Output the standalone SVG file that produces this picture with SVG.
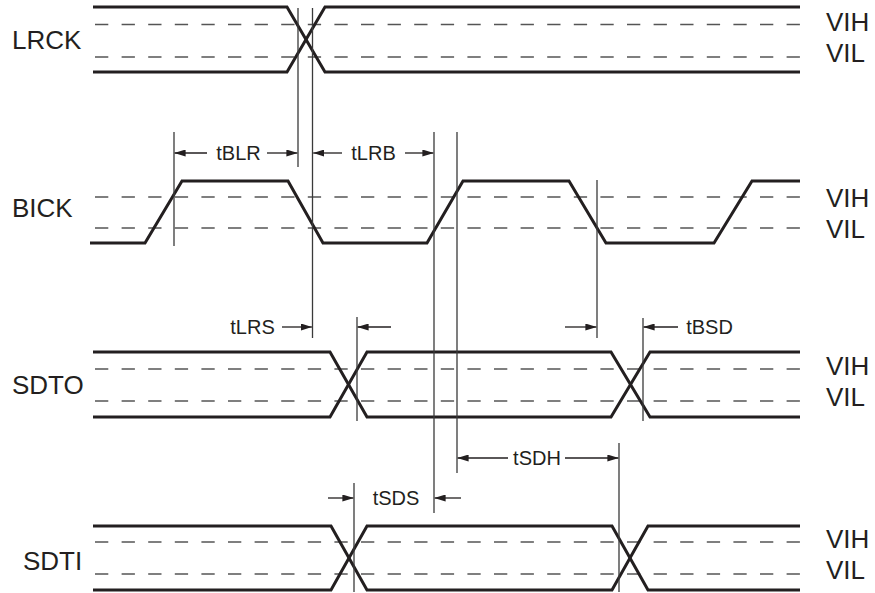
<svg xmlns="http://www.w3.org/2000/svg" width="875" height="593" viewBox="0 0 875 593">
<style>
.wave{fill:none;stroke:#231f20;stroke-width:3;stroke-linejoin:miter}
.th{fill:none;stroke:#555;stroke-width:1.5;stroke-dasharray:13.3 13.3}
.vl{stroke:#3a3a3a;stroke-width:1.3}
.ar{stroke:#231f20;stroke-width:1.3;marker-end:url(#ah)}
.lab{font-family:"Liberation Sans",Arial,sans-serif;font-size:26px;fill:#231f20}
.tl{font-family:"Liberation Sans",Arial,sans-serif;font-size:20px;fill:#231f20;text-anchor:middle}
</style>
<defs>
<marker id="ah" markerUnits="userSpaceOnUse" markerWidth="11" markerHeight="7" refX="11" refY="3.5" orient="auto">
<path d="M0,0 L11,3.5 L0,7 z" fill="#231f20"/>
</marker>
</defs>
<g id="LRCK">
<text class="lab" x="12" y="49">LRCK</text>
<line class="th" x1="95" y1="24.5" x2="800" y2="24.5"/>
<line class="th" x1="95" y1="57" x2="800" y2="57"/>
<path class="wave" d="M93,7 H287 L325,72 H800"/>
<path class="wave" d="M93,72 H287 L325,7 H800"/>
<text class="lab" x="826" y="31">VIH</text>
<text class="lab" x="826" y="62">VIL</text>
</g>
<g id="BICK">
<text class="lab" x="12" y="217">BICK</text>
<line class="th" x1="95" y1="197" x2="800" y2="197"/>
<line class="th" x1="95" y1="228" x2="800" y2="228"/>
<path class="wave" d="M90,243 H145 L182,181 H288 L323,243 H427 L463,181 H569 L606,243 H714 L752,181 H800"/>
<text class="lab" x="826" y="207">VIH</text>
<text class="lab" x="826" y="238">VIL</text>
</g>
<g id="SDTO">
<text class="lab" x="12" y="394">SDTO</text>
<line class="th" x1="95" y1="369" x2="800" y2="369"/>
<line class="th" x1="95" y1="401" x2="800" y2="401"/>
<path class="wave" d="M93,352 H330 L367,417 H611 L650,352 H800"/>
<path class="wave" d="M93,417 H330 L367,352 H611 L650,417 H800"/>
<text class="lab" x="826" y="375">VIH</text>
<text class="lab" x="826" y="406">VIL</text>
</g>
<g id="SDTI">
<text class="lab" x="23" y="570">SDTI</text>
<line class="th" x1="95" y1="542" x2="800" y2="542"/>
<line class="th" x1="95" y1="574" x2="800" y2="574"/>
<path class="wave" d="M93,526 H331 L367,590 H612 L648,526 H800"/>
<path class="wave" d="M93,590 H331 L367,526 H612 L648,590 H800"/>
<text class="lab" x="826" y="548">VIH</text>
<text class="lab" x="826" y="579">VIL</text>
</g>
<g id="connectors">
<line class="vl" x1="298" y1="8" x2="298" y2="167"/>
<line class="vl" x1="312.5" y1="8" x2="312.5" y2="338"/>
<line class="vl" x1="174" y1="132" x2="174" y2="246"/>
<line class="vl" x1="434" y1="132" x2="434" y2="513"/>
<line class="vl" x1="457" y1="132" x2="457" y2="473"/>
<line class="vl" x1="597" y1="180" x2="597" y2="338"/>
<line class="vl" x1="357" y1="317" x2="357" y2="421"/>
<line class="vl" x1="643" y1="318" x2="643" y2="421"/>
<line class="vl" x1="354" y1="483" x2="354" y2="592"/>
<line class="vl" x1="619" y1="443" x2="619" y2="592"/>
<line class="ar" x1="207" y1="153" x2="174.6" y2="153"/>
<line class="ar" x1="267" y1="153" x2="297.4" y2="153"/>
<line class="ar" x1="342" y1="153" x2="313.2" y2="153"/>
<line class="ar" x1="405" y1="153" x2="433.4" y2="153"/>
<line class="ar" x1="282" y1="327" x2="311.9" y2="327"/>
<line class="ar" x1="391" y1="327" x2="357.6" y2="327"/>
<line class="ar" x1="565" y1="327" x2="596.4" y2="327"/>
<line class="ar" x1="678" y1="327" x2="643.6" y2="327"/>
<line class="ar" x1="508" y1="458" x2="457.6" y2="458"/>
<line class="ar" x1="565" y1="458" x2="618.4" y2="458"/>
<line class="ar" x1="328" y1="498" x2="353.4" y2="498"/>
<line class="ar" x1="461" y1="498" x2="434.6" y2="498"/>
<text class="tl" x="238.5" y="160">tBLR</text>
<text class="tl" x="373.5" y="160">tLRB</text>
<text class="tl" x="252.5" y="334">tLRS</text>
<text class="tl" x="709.5" y="334">tBSD</text>
<text class="tl" x="537" y="465">tSDH</text>
<text class="tl" x="396" y="505">tSDS</text>
</g>
</svg>
